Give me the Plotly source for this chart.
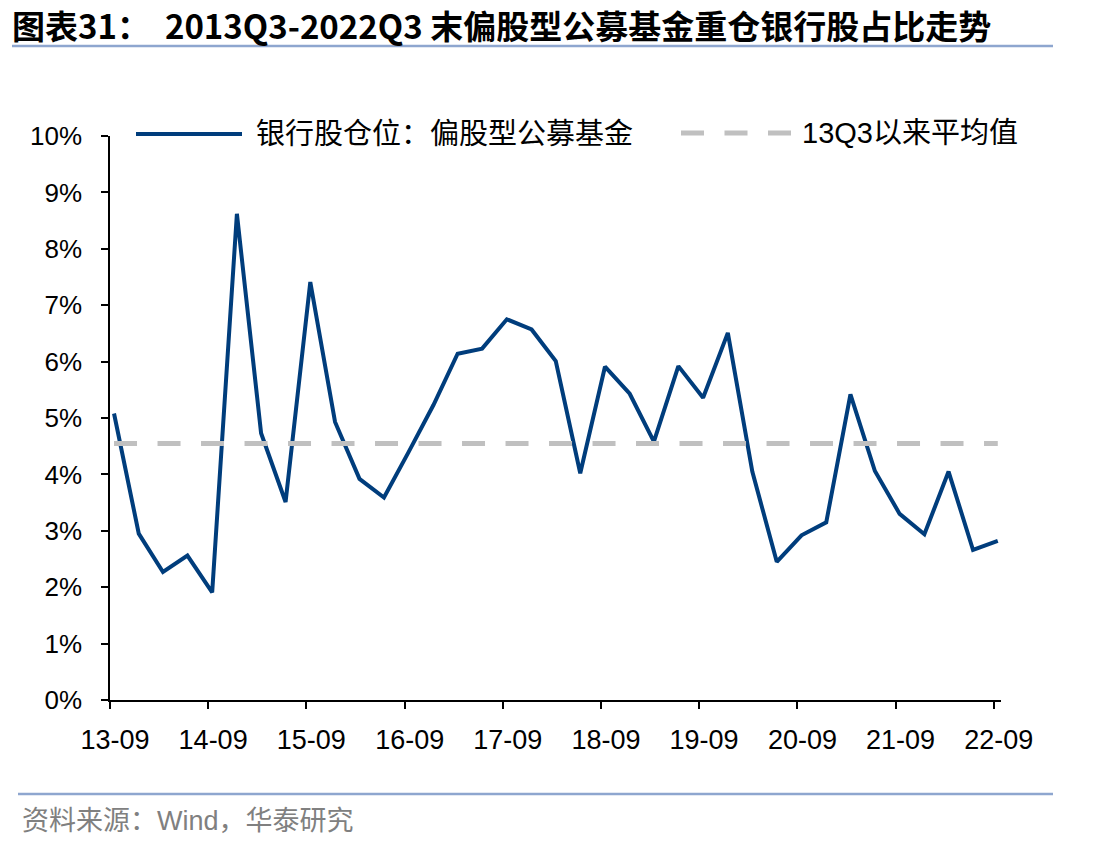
import plotly.graph_objects as go

# ---------------- data ----------------
quarter_dates = [
    "2013-09-30", "2013-12-31", "2014-03-31", "2014-06-30", "2014-09-30", "2014-12-31",
    "2015-03-31", "2015-06-30", "2015-09-30", "2015-12-31", "2016-03-31", "2016-06-30",
    "2016-09-30", "2016-12-31", "2017-03-31", "2017-06-30", "2017-09-30", "2017-12-31",
    "2018-03-31", "2018-06-30", "2018-09-30", "2018-12-31", "2019-03-31", "2019-06-30",
    "2019-09-30", "2019-12-31", "2020-03-31", "2020-06-30", "2020-09-30", "2020-12-31",
    "2021-03-31", "2021-06-30", "2021-09-30", "2021-12-31", "2022-03-31", "2022-06-30",
    "2022-09-30",
]
bank_weight = [
    5.08, 2.95, 2.27, 2.56, 1.91, 8.62,
    4.73, 3.51, 7.41, 4.93, 3.92, 3.59,
    4.40, 5.23, 6.14, 6.23, 6.75, 6.57,
    6.01, 4.02, 5.91, 5.43, 4.58, 5.92,
    5.36, 6.51, 4.05, 2.45, 2.92, 3.15,
    5.42, 4.06, 3.30, 2.94, 4.05, 2.66,
    2.82,
]
mean_value = 4.55
mean_line = [mean_value] * len(quarter_dates)

tick_dates = ["2013-09-15", "2014-09-15", "2015-09-15", "2016-09-15", "2017-09-15",
              "2018-09-15", "2019-09-15", "2020-09-15", "2021-09-15", "2022-09-15"]
tick_labels = ["13-09", "14-09", "15-09", "16-09", "17-09",
               "18-09", "19-09", "20-09", "21-09", "22-09"]
y_ticks = [0, 1, 2, 3, 4, 5, 6, 7, 8, 9, 10]
y_tick_labels = ["0%", "1%", "2%", "3%", "4%", "5%", "6%", "7%", "8%", "9%", "10%"]

series_name = "银行股仓位：偏股型公募基金"
mean_name = "13Q3以来平均值"
title_text = "图表31：  2013Q3-2022Q3 末偏股型公募基金重仓银行股占比走势"
source_text = "资料来源：Wind，华泰研究"

# ---------------- layout geometry ----------------
W, H = 1112, 849
L, R, T, B = 110, 111, 136, 149
PW, PH = W - L - R, H - T - B


def px_x(px):
    return (px - L) / PW


def px_y(py):
    return (H - B - py) / PH


NAVY = "#003d7c"
GRAY = "#c0c0c0"
LAT = "Liberation Sans, Arial, Noto Sans CJK SC"

fig = go.Figure()
fig.add_trace(go.Scatter(x=quarter_dates, y=bank_weight, mode="lines", name=series_name,
                         line=dict(color=NAVY, width=4), showlegend=False))
fig.add_trace(go.Scatter(x=quarter_dates, y=mean_line, mode="lines", name=mean_name,
                         line=dict(color=GRAY, width=5, dash="23px,20.5px"), showlegend=False))

shapes = []
annotations = []
# manual legend
shapes.append(dict(type="line", xref="paper", yref="paper",
                   x0=px_x(136), x1=px_x(242), y0=px_y(134), y1=px_y(134),
                   line=dict(color=NAVY, width=4)))
annotations.append(dict(xref="paper", yref="paper", x=px_x(254), y=px_y(134),
                        xanchor="left", yanchor="middle", showarrow=False,
                        text=series_name, font=dict(family=LAT, size=29, color="#000000")))
shapes.append(dict(type="line", xref="paper", yref="paper",
                   x0=px_x(681), x1=px_x(791), y0=px_y(133), y1=px_y(133),
                   line=dict(color=GRAY, width=5, dash="23px,20.5px")))
annotations.append(dict(xref="paper", yref="paper", x=px_x(800), y=px_y(133),
                        xanchor="left", yanchor="middle", showarrow=False,
                        text=mean_name, font=dict(family=LAT, size=29, color="#000000")))
# title and rules
annotations.append(dict(xref="paper", yref="paper", x=px_x(10), y=px_y(25),
                        xanchor="left", yanchor="middle", showarrow=False,
                        text="<b>" + title_text + "</b>",
                        font=dict(family="Noto Sans CJK SC", size=33, color="#000000")))
shapes.append(dict(type="line", xref="paper", yref="paper",
                   x0=px_x(12), x1=px_x(1053), y0=px_y(46), y1=px_y(46),
                   line=dict(color="#8ea6cf", width=2.5)))
shapes.append(dict(type="line", xref="paper", yref="paper",
                   x0=px_x(18), x1=px_x(1053), y0=px_y(794), y1=px_y(794),
                   line=dict(color="#8ea6cf", width=2.5)))
annotations.append(dict(xref="paper", yref="paper", x=px_x(20), y=px_y(821),
                        xanchor="left", yanchor="middle", showarrow=False,
                        text=source_text, font=dict(family=LAT, size=27, color="#808080")))

fig.update_layout(
    width=W, height=H,
    margin=dict(l=L, r=R, t=T, b=B, pad=0),
    paper_bgcolor="white", plot_bgcolor="white",
    shapes=shapes, annotations=annotations,
    showlegend=False,
)
fig.update_xaxes(
    type="date", range=["2013-09-15", "2022-10-12"],
    tickmode="array", tickvals=tick_dates, ticktext=tick_labels,
    ticks="outside", ticklen=7, tickwidth=1.5, tickcolor="#000000",
    showline=True, linecolor="#000000", linewidth=1.5,
    showgrid=False, zeroline=False,
    tickfont=dict(family=LAT, size=27, color="#000000"),
    ticklabelshift=5, ticklabelstandoff=8,
)
fig.update_yaxes(
    range=[0, 10], tickmode="array", tickvals=y_ticks, ticktext=y_tick_labels,
    ticks="outside", ticklen=7, tickwidth=1.5, tickcolor="#000000",
    showline=True, linecolor="#000000", linewidth=1.5,
    showgrid=False, zeroline=False,
    tickfont=dict(family=LAT, size=26, color="#000000"),
    ticklabelstandoff=14,
)

fig.write_html("out.html")
